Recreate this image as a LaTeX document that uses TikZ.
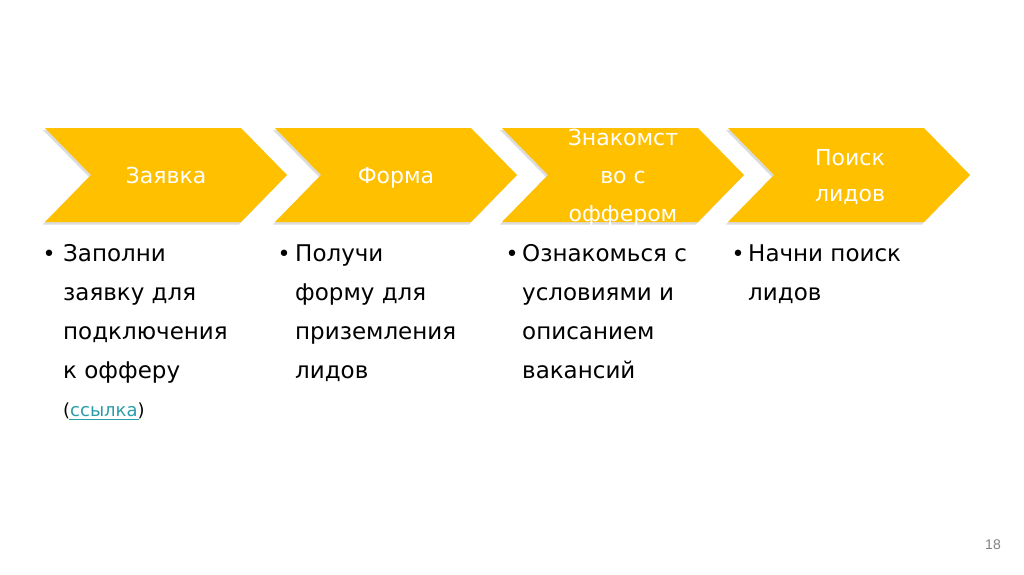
\documentclass[tikz,border=0pt]{standalone}
\usepackage{fontspec}
\setmainfont{DejaVu Sans}
\newfontfamily\numfont{Liberation Sans}
\definecolor{gold}{HTML}{FFC000}
\definecolor{shadowgray}{HTML}{DCDCDC}
\definecolor{linkteal}{HTML}{2A9DAA}
\begin{document}
\begin{tikzpicture}[x=1pt,y=-1pt,
  chev/.style={fill=gold,draw=none},
  chevshadow/.style={fill=shadowgray,draw=none},
  ttl/.style={text=white,font=\fontsize{22}{22}\selectfont,inner sep=0pt,anchor=base},
  body/.style={text=black,font=\fontsize{23}{23}\selectfont,inner sep=0pt,anchor=base west},
  bul/.style={text=black,font=\fontsize{22}{22}\selectfont,inner sep=0pt,anchor=base}
]
\useasboundingbox (0,0) rectangle (1024,574);
\fill[white] (0,0) rectangle (1024,574);
% chevrons
\foreach \L/\n in {45/a,275/b,502/c,728/d}{
  \fill[chevshadow] (\L-2,130) -- (\L+196-2,130) -- (\L+242-2,177) -- (\L+196-2,224.5) -- (\L-2,224.5) -- (\L+46-2,177) -- cycle;
  \fill[chev] (\L,128) -- (\L+196,128) -- (\L+242,175) -- (\L+196,222) -- (\L,222) -- (\L+46,175) -- cycle;
}
% titles
\node[ttl] (t1) at (166,183) {Заявка};
\node[ttl] (t2) at (396,183) {Форма};
\node[ttl] (t3a) at (623,145) {Знакомст};
\node[ttl] (t3b) at (623,183) {во с};
\node[ttl] (t3c) at (623,221) {оффером};
\node[ttl] (t4a) at (850,165) {Поиск};
\node[ttl] (t4b) at (850,201) {лидов};
% bullets column 1
\node[bul] (b1) at (49,261) {•};
\node[body] (l11) at (63,261) {Заполни};
\node[body] (l12) at (63,300) {заявку для};
\node[body] (l13) at (63,339) {подключения};
\node[body] (l14) at (63,378) {к офферу};
\node[body,font=\fontsize{18}{18}\selectfont] (l15) at (63,416) {(\textcolor{linkteal}{ссылка})};
\draw[linkteal,line width=0.8pt] ([xshift=6pt,yshift=-3pt]l15.base west) -- ([xshift=-6pt,yshift=-3pt]l15.base east);
% column 2
\node[bul] (b2) at (284,261) {•};
\node[body] (l21) at (295,261) {Получи};
\node[body] (l22) at (295,300) {форму для};
\node[body] (l23) at (295,339) {приземления};
\node[body] (l24) at (295,378) {лидов};
% column 3
\node[bul] (b3) at (512,261) {•};
\node[body] (l31) at (522,261) {Ознакомься с};
\node[body] (l32) at (522,300) {условиями и};
\node[body] (l33) at (522,339) {описанием};
\node[body] (l34) at (522,378) {вакансий};
% column 4
\node[bul] (b4) at (738,261) {•};
\node[body] (l41) at (748,261) {Начни поиск};
\node[body] (l42) at (748,300) {лидов};
% page number
\node[text=gray,font=\numfont\fontsize{14}{14}\selectfont,inner sep=0pt] (pg) at (993,545) {18};
\end{tikzpicture}
\end{document}
